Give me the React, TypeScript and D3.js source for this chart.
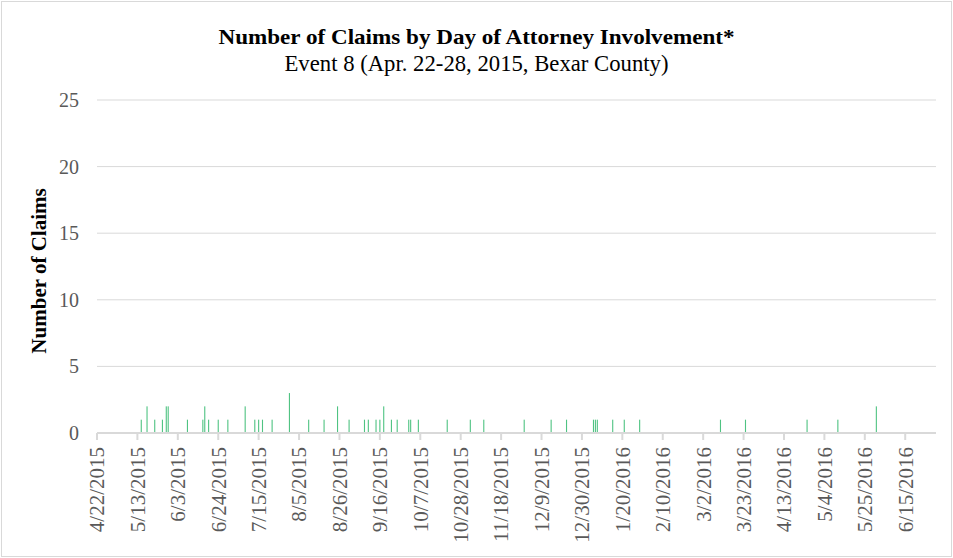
import React from "react";
import * as d3 from "d3";

const dates: string[] = [
  "2015-05-15","2015-05-18","2015-05-22","2015-05-26","2015-05-28","2015-05-29",
  "2015-06-08","2015-06-16","2015-06-17","2015-06-19","2015-06-24","2015-06-29",
  "2015-07-08","2015-07-13","2015-07-15","2015-07-17","2015-07-22","2015-07-31",
  "2015-08-10","2015-08-18","2015-08-25","2015-08-31","2015-09-08","2015-09-10",
  "2015-09-14","2015-09-16","2015-09-18","2015-09-22","2015-09-25","2015-10-01",
  "2015-10-02","2015-10-06","2015-10-21","2015-11-02","2015-11-09","2015-11-30",
  "2015-12-14","2015-12-22","2016-01-05","2016-01-06","2016-01-07","2016-01-15",
  "2016-01-21","2016-01-29","2016-03-11","2016-03-24","2016-04-25","2016-05-11",
  "2016-05-31",
];
const claims: number[] = [
  1,2,1,1,2,2,
  1,1,2,1,1,1,
  2,1,1,1,1,3,
  1,1,2,1,1,1,
  1,1,2,1,1,1,
  1,1,1,1,1,1,
  1,1,1,1,1,1,
  1,1,1,1,1,1,
  2,
];
const yTicks: number[] = [0, 5, 10, 15, 20, 25];
const xTickLabels: string[] = [
  "4/22/2015","5/13/2015","6/3/2015","6/24/2015","7/15/2015","8/5/2015","8/26/2015",
  "9/16/2015","10/7/2015","10/28/2015","11/18/2015","12/9/2015","12/30/2015",
  "1/20/2016","2/10/2016","3/2/2016","3/23/2016","4/13/2016","5/4/2016",
  "5/25/2016","6/15/2016",
];
const title = "Number of Claims by Day of Attorney Involvement*";
const subtitle = "Event 8 (Apr. 22-28, 2015, Bexar County)";
const yTitle = "Number of Claims";

const W = 953, H = 558;
const left = 97, right = 936, top = 100, bottom = 433;

const parse = d3.timeParse("%Y-%m-%d");
const parseLabel = d3.timeParse("%m/%d/%Y");

export default function App() {
  const x = d3.scaleTime()
    .domain([parse("2015-04-22") as Date, parse("2016-07-01") as Date])
    .range([left, right]);
  const y = d3.scaleLinear().domain([0, 25]).range([bottom, top]);
  const font = "'Liberation Serif', 'Times New Roman', serif";
  const barW = 1.1;
  return (
    <div style={{ position: "absolute", left: 0, top: 0 }}>
      <svg width={W} height={H} style={{ display: "block", fontFamily: font }}>
        <rect x={0} y={0} width={W} height={H} fill="#fff" />
        <rect x={1.5} y={1.5} width={W - 3} height={H - 3} fill="none" stroke="#d9d9d9" strokeWidth={1} />
        <text x={W / 2} y={44} textAnchor="middle" fontWeight="bold" fontSize={21.5} textLength={516} lengthAdjust="spacingAndGlyphs" fill="#000">{title}</text>
        <text x={W / 2} y={71} textAnchor="middle" fontSize={22.5} textLength={384} lengthAdjust="spacingAndGlyphs" fill="#000">{subtitle}</text>
        {yTicks.map((t) => (
          <g key={t}>
            {t > 0 && (
              <line x1={left} x2={right} y1={y(t)} y2={y(t)} stroke="#d9d9d9" strokeWidth={1} />
            )}
            <text x={79} y={y(t)} dy="0.35em" textAnchor="end" fontSize={20} fill="#595959">{t}</text>
          </g>
        ))}
        <text transform={`translate(46,271) rotate(-90)`} textAnchor="middle" fontWeight="bold" fontSize={21} fill="#000">{yTitle}</text>
        {dates.map((d, i) => {
          const xv = x(parse(d) as Date);
          return (
            <rect key={d} x={xv - barW / 2} width={barW} y={y(claims[i])} height={y(0) - y(claims[i])} fill="#4fc382" />
          );
        })}
        <line x1={left} x2={right} y1={bottom} y2={bottom} stroke="#d9d9d9" strokeWidth={2} />
        {xTickLabels.map((l) => {
          const xv = x(parseLabel(l) as Date);
          return (
            <g key={l}>
              <line x1={xv} x2={xv} y1={bottom} y2={bottom + 7} stroke="#d9d9d9" strokeWidth={2} />
              <text transform={`translate(${xv},${bottom + 14}) rotate(-90)`} dy="0.35em" textAnchor="end" fontSize={21} fill="#595959">{l}</text>
            </g>
          );
        })}
      </svg>
    </div>
  );
}
